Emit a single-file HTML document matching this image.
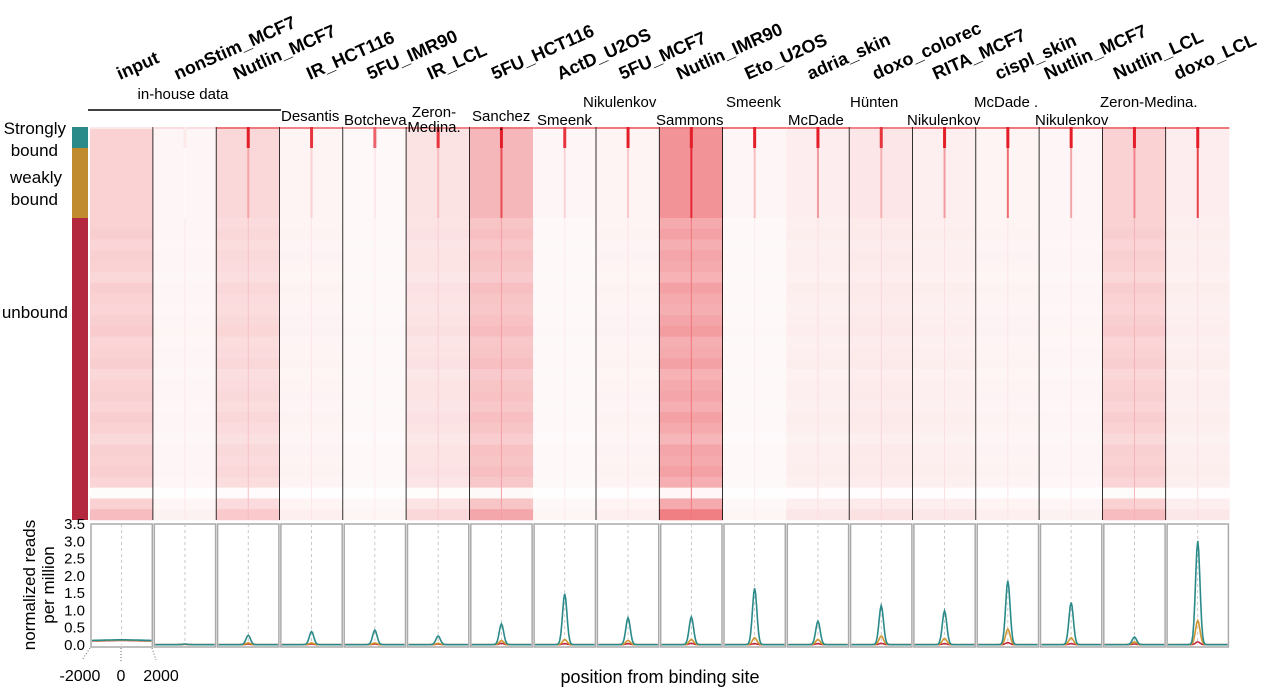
<!DOCTYPE html>
<html><head><meta charset="utf-8"><style>
html,body{margin:0;padding:0;background:#fff;}
svg{display:block;font-family:"Liberation Sans",sans-serif;}
</style></head><body>
<svg id="fig" width="1280" height="690" viewBox="0 0 1280 690">
<g id="labels"></g>
<g>
 <rect x="72" y="127" width="16" height="21" fill="#2a8a8a"/>
 <rect x="72" y="148" width="16" height="70" fill="#c08a2e"/>
 <rect x="72" y="218" width="16" height="302" fill="#b3283e"/>
 <text x="66" y="134" font-size="17" text-anchor="end">Strongly</text>
 <text x="58" y="156" font-size="17" text-anchor="end">bound</text>
 <text x="62" y="183" font-size="17" text-anchor="end">weakly</text>
 <text x="58" y="205" font-size="17" text-anchor="end">bound</text>
 <text x="68" y="318" font-size="17" text-anchor="end">unbound</text>
</g>
<g id="heat"></g>
<g id="sources">
 <text x="183" y="99" font-size="15" text-anchor="middle">in-house data</text>
 <line x1="88" y1="110" x2="281" y2="110" stroke="#000" stroke-width="1.5"/>
 <text x="281" y="121" font-size="15">Desantis</text>
 <text x="344" y="125" font-size="15">Botcheva</text>
 <text x="434" y="117" font-size="15" text-anchor="middle">Zeron-</text>
 <text x="434" y="132" font-size="15" text-anchor="middle">Medina.</text>
 <text x="472" y="121" font-size="15">Sanchez</text>
 <text x="499" y="130" font-size="15">.</text>
 <text x="537" y="125" font-size="15">Smeenk</text>
 <text x="583" y="107" font-size="15">Nikulenkov</text>
 <text x="656" y="125" font-size="15">Sammons</text>
 <text x="726" y="107" font-size="15">Smeenk</text>
 <text x="788" y="125" font-size="15">McDade</text>
 <text x="850" y="107" font-size="15">Hünten</text>
 <text x="907" y="125" font-size="15">Nikulenkov</text>
 <text x="974" y="107" font-size="15">McDade .</text>
 <text x="1035" y="125" font-size="15">Nikulenkov</text>
 <text x="1100" y="107" font-size="15">Zeron-Medina.</text>
</g>
<g id="prof"></g>
<g id="yaxis"></g>
<text transform="translate(35,585) rotate(-90)" font-size="17" text-anchor="middle">normalized reads</text>
<text transform="translate(54,585) rotate(-90)" font-size="17" text-anchor="middle">per million</text>
<g>
 <line x1="90" y1="648" x2="82" y2="660" stroke="#666" stroke-dasharray="1,2"/>
 <line x1="121" y1="648" x2="121" y2="662" stroke="#666" stroke-dasharray="1,2"/>
 <line x1="152" y1="648" x2="156" y2="660" stroke="#666" stroke-dasharray="1,2"/>
 <text x="80" y="681" font-size="16" text-anchor="middle">-2000</text>
 <text x="121" y="681" font-size="16" text-anchor="middle">0</text>
 <text x="161" y="681" font-size="16" text-anchor="middle">2000</text>
 <text x="660" y="683" font-size="18" text-anchor="middle">position from binding site</text>
</g>
</svg>
<script>
const samples=["input","nonStim_MCF7","Nutlin_MCF7","IR_HCT116","5FU_IMR90","IR_LCL","5FU_HCT116","ActD_U2OS","5FU_MCF7","Nutlin_IMR90","Eto_U2OS","adria_skin","doxo_colorec","RITA_MCF7","cispl_skin","Nutlin_MCF7","Nutlin_LCL","doxo_LCL"];
const labelOffsets=[30,24,20,30,27,24,25,27,26,20,25,24,26,23,22,8,14,11];
const baseUnbound=[0.20,0.04,0.16,0.05,0.03,0.12,0.26,0.03,0.05,0.38,0.03,0.07,0.09,0.07,0.05,0.04,0.20,0.07];
const baseBound=[0.20,0.04,0.18,0.05,0.03,0.13,0.32,0.04,0.05,0.48,0.04,0.08,0.11,0.07,0.05,0.04,0.20,0.08];
const lineStrong=[0,0.1,1,0.9,0.7,0.9,1,0.9,1,1,1,1,0.9,1,1,1,1,1];
const lineWeak=[0,0.03,0.4,0.2,0.1,0.3,0.8,0.2,0.25,0.95,0.3,0.45,0.35,0.45,0.65,0.4,0.55,0.85];
const blackSep=[1,1,1,1,1,1,0,1,1,1,0,1,1,1,1,1,1];
const bandProfile=[1.0,1.1,0.95,1.05,1.0,0.9,1.1,1.0,0.95,1.05,1.15,0.95,1.0,1.1,0.9,1.0,1.05,0.95,1.1,1.0,0.85,1.05,1.0,1.1,0.95,0.1,1.0,1.5];
const peakStrong=[0.15,0.02,0.27,0.38,0.42,0.25,0.60,1.47,0.78,0.80,1.63,0.68,1.13,0.98,1.85,1.22,0.22,3.00];
const peakWeak=[0.14,0.01,0.05,0.05,0.05,0.04,0.12,0.15,0.12,0.15,0.20,0.15,0.25,0.18,0.45,0.20,0.08,0.70];
const peakUnbound=[0.13,0.01,0.02,0.02,0.02,0.02,0.04,0.03,0.03,0.04,0.03,0.03,0.04,0.03,0.06,0.03,0.02,0.08];
const yTicks=["0.0","0.5","1.0","1.5","2.0","2.5","3.0","3.5"];

const NS="http://www.w3.org/2000/svg";
const X0=90,CW=63.3,HT=127,HB=520,PT=524,PB=645,YMAX=3.5;
const colX=i=>X0+i*CW;
const yScale=v=>PB-(v/YMAX)*(PB-PT);
function mk(tag,attrs,parent){const e=document.createElementNS(NS,tag);for(const k in attrs)e.setAttribute(k,attrs[k]);parent.appendChild(e);return e;}
function col(v){v=Math.max(0,Math.min(1,v));const r=Math.round(255-27*v),g=Math.round(255-225*v),b=Math.round(255-215*v);return `rgb(${r},${g},${b})`;}
const labels=document.getElementById('labels'),heat=document.getElementById('heat'),prof=document.getElementById('prof'),yaxis=document.getElementById('yaxis');

samples.forEach((s,i)=>{
 const x=colX(i);
 const t=mk('text',{transform:`translate(${x+labelOffsets[i]},80) rotate(-24)`,'font-size':'18','font-weight':'bold'},labels);
 t.textContent=s;
 
 
 const g=mk('g',{},heat);
 
 
 mk('rect',{x:x,y:HT,width:CW,height:91,fill:col(baseBound[i])},g);
 const n=bandProfile.length,bh=(HB-218)/n;
 bandProfile.forEach((m,j)=>{
  mk('rect',{x:x,y:218+j*bh,width:CW+0.3,height:bh+0.3,fill:col(baseUnbound[i]*m)},g);
 });
 mk('rect',{x:x,y:HT,width:CW,height:2,fill:col(0.5*lineStrong[i]+0.1)},g);
 if(lineStrong[i]>0){
  mk('rect',{x:x+CW/2-1.5,y:HT,width:3,height:21,fill:col(lineStrong[i])},g);
  mk('rect',{x:x+CW/2-1,y:148,width:2,height:70,fill:col(lineWeak[i])},g);
  mk('rect',{x:x+CW/2-0.5,y:218,width:1,height:302,fill:col(baseUnbound[i]*1.5+0.04)},g);
 }
 if(i<samples.length-1&&blackSep[i]){mk('line',{x1:x+CW,y1:HT,x2:x+CW,y2:HB,stroke:'#000','stroke-width':1.6},heat);}
 const p=mk('g',{},prof);
 
 
 mk('rect',{x:x+1,y:PT,width:CW-2,height:PB-PT+2,fill:'#fff',stroke:'#aaa','stroke-width':1.5},p);
 mk('line',{x1:x+CW/2,y1:PT,x2:x+CW/2,y2:PB,stroke:'#bbb','stroke-dasharray':'3,3','stroke-width':0.8},p);
 const series=[[peakUnbound,'#c0283c'],[peakWeak,'#d0952e'],[peakStrong,'#2a8a8a']];
 series.forEach(([arr,c])=>{
  const peak=arr[i];let d='';
  const broad=(i===0);
  for(let k=0;k<=60;k++){
   const xx=x+2+k*(CW-4)/60,dx=(k-30)/(broad?25:3.2);
   const v=broad?peak*(0.85+0.15*Math.exp(-dx*dx)):peak*Math.exp(-dx*dx)+0.01;
   d+=(k?'L':'M')+xx.toFixed(1)+','+yScale(v).toFixed(1);
  }
  const pa=mk('path',{d:d,fill:'none',stroke:c,'stroke-width':1.6},p);
  
  
 });
});
yTicks.forEach(tk=>{
 const t=mk('text',{x:85,y:yScale(parseFloat(tk))+5,'font-size':'15','text-anchor':'end'},yaxis);
 t.textContent=tk;
 
 
});
</script>
</body></html>
